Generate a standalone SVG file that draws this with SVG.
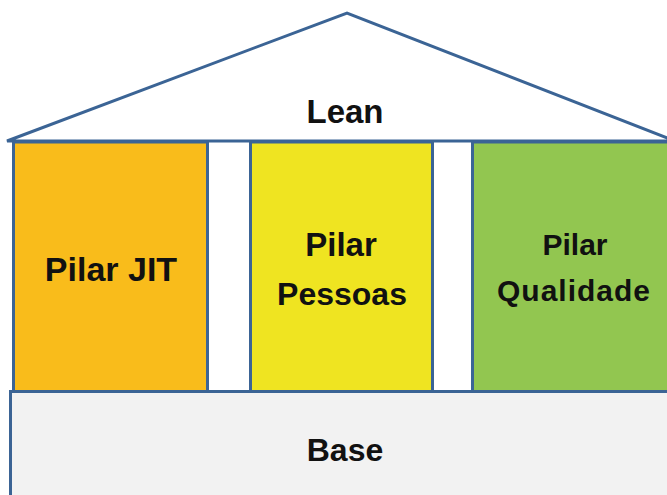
<svg xmlns="http://www.w3.org/2000/svg" width="667" height="495" viewBox="0 0 667 495">
  <style>
    .edge { stroke: #3B6495; stroke-width: 3; stroke-linejoin: miter; }
    .label { font-family: "Liberation Sans", Arial, sans-serif; font-weight: bold; fill: #111111; text-anchor: middle; }
  </style>
  <rect x="0" y="0" width="667" height="495" fill="#FFFFFF"/>

  <!-- roof -->
  <g id="roof">
    <polygon class="edge" points="7,141 347,13 675,141" fill="#FFFFFF"/>
    <text class="label" x="345" y="123" font-size="33">Lean</text>
  </g>

  <!-- pillars -->
  <g id="pilar-jit">
    <rect class="edge" x="13.5" y="142" width="194" height="250" fill="#F9BC1B"/>
    <text class="label" x="111" y="281" font-size="34">Pilar JIT</text>
  </g>
  <g id="pilar-pessoas">
    <rect class="edge" x="250.5" y="142" width="182" height="250" fill="#EFE421"/>
    <text class="label" x="341" y="256" font-size="33">Pilar</text>
    <text class="label" x="342" y="305" font-size="32">Pessoas</text>
  </g>
  <g id="pilar-qualidade">
    <rect class="edge" x="472.5" y="142" width="210" height="250" fill="#92C650"/>
    <text class="label" x="575" y="255" font-size="30">Pilar</text>
    <text class="label" x="574" y="301" font-size="30" letter-spacing="1">Qualidade</text>
  </g>

  <!-- foundation -->
  <g id="base">
    <rect class="edge" x="10.5" y="391.5" width="680" height="120" fill="#F2F2F2"/>
    <text class="label" x="345" y="461" font-size="32">Base</text>
  </g>

  <g id="connectors"/>
</svg>
